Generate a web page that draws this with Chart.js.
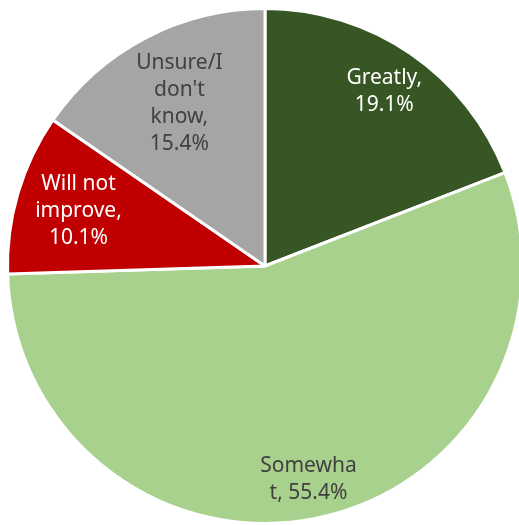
<!DOCTYPE html>
<html>
<head>
<meta charset="utf-8">
<script src="https://cdn.jsdelivr.net/npm/chart.js@4"></script>
<style>
  html, body { margin: 0; padding: 0; background: #ffffff; overflow: hidden; width: 519px; height: 525px; }
  #wrap { position: absolute; left: -5px; top: -4px; width: 540px; height: 540px; }
</style>
</head>
<body>
<div id="wrap"><canvas id="c" width="540" height="540"></canvas></div>
<script>
const categories = ["Greatly", "Somewhat", "Will not improve", "Unsure/I don't know"];
const values = [19.1, 55.4, 10.1, 15.4];
const labelLines = [
  ["Greatly,", "19.1%"],
  ["Somewha", "t, 55.4%"],
  ["Will not", "improve,", "10.1%"],
  ["Unsure/I", "don't", "know,", "15.4%"]
];
const colors = ["#375623", "#a9d18e", "#c00000", "#a5a5a5"];
const textColors = ["#ffffff", "#404040", "#ffffff", "#404040"];
const labelRadius = [0.82, 0.845, 0.755, 0.715];

const sliceLabels = {
  id: 'sliceLabels',
  afterDatasetsDraw(chart) {
    const ctx = chart.ctx;
    const meta = chart.getDatasetMeta(0);
    ctx.save();
    ctx.font = '21px "Noto Sans", sans-serif';
    ctx.textAlign = 'center';
    ctx.textBaseline = 'middle';
    const lh = 27;
    meta.data.forEach((arc, i) => {
      const p = arc.getProps(['startAngle', 'endAngle', 'x', 'y', 'outerRadius'], true);
      const mid = (p.startAngle + p.endAngle) / 2;
      const r = p.outerRadius * labelRadius[i];
      const cx = p.x + Math.cos(mid) * r;
      const cy = p.y + Math.sin(mid) * r;
      const lines = labelLines[i];
      ctx.fillStyle = textColors[i];
      lines.forEach((t, k) => {
        ctx.fillText(t, cx, cy + (k - (lines.length - 1) / 2) * lh);
      });
    });
    ctx.restore();
  }
};

new Chart(document.getElementById('c'), {
  type: 'pie',
  data: {
    labels: categories,
    datasets: [{
      data: values,
      backgroundColor: colors,
      borderColor: '#ffffff',
      borderWidth: 3
    }]
  },
  options: {
    responsive: false,
    animation: false,
    layout: { padding: 11 },
    plugins: {
      legend: { display: false },
      tooltip: { enabled: false }
    }
  },
  plugins: [sliceLabels]
});
</script>
</body>
</html>
